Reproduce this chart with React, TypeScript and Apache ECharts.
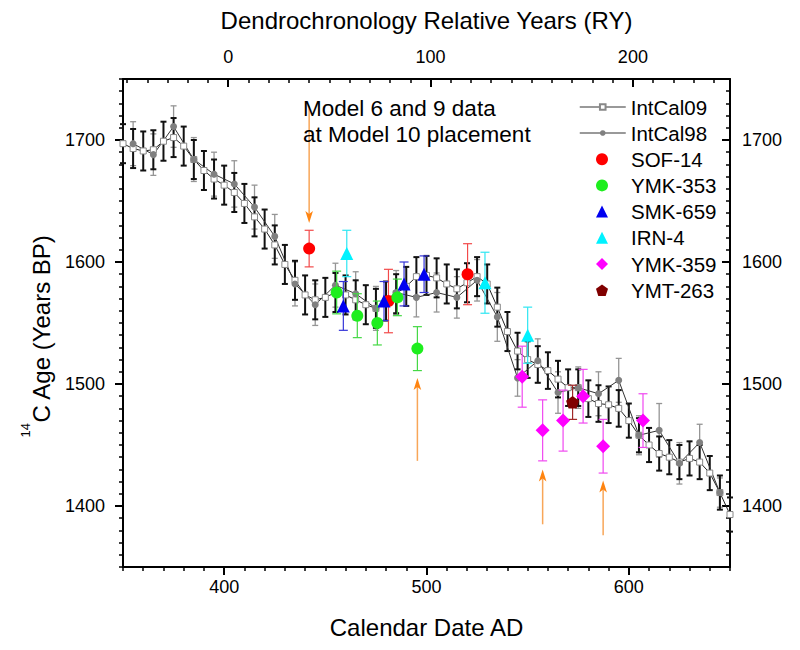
import React, { useEffect, useRef } from 'react';
import * as echarts from 'echarts';

const FONT = '"Liberation Sans", Arial, Helvetica, sans-serif';

// ---- axes ----
const CAL_MIN = 350;
const CAL_MAX = 650;
const calMajorTicks = [400, 500, 600];
const RY_ZERO_AD = 402; // calendar year of RY 0
const ryMajorTicks = [0, 100, 200];
const AGE_MIN = 1350;
const AGE_MAX = 1750;
const ageMajorTicks = [1400, 1500, 1600, 1700];

// ---- IntCal09 (5-yr) ----
const intcal09Years = [
  350, 355, 360, 365, 370, 375, 380, 385, 390, 395,
  400, 405, 410, 415, 420, 425, 430, 435, 440, 445,
  450, 455, 460, 465, 470, 475, 480, 485, 490, 495,
  500, 505, 510, 515, 520, 525, 530, 535, 540, 545,
  550, 555, 560, 565, 570, 575, 580, 585, 590, 595,
  600, 605, 610, 615, 620, 625, 630, 635, 640, 645,
  650,
];
const intcal09Age = [
  1697, 1693, 1691, 1692, 1699, 1702, 1695, 1684, 1675, 1668,
  1663, 1657, 1648, 1637, 1627, 1614, 1598, 1585, 1573, 1569,
  1571, 1575, 1573, 1569, 1565, 1562, 1568, 1574, 1580, 1588,
  1589, 1587, 1582, 1578, 1583, 1588, 1582, 1563, 1543, 1527,
  1520, 1516, 1511, 1504, 1497, 1497, 1488, 1484, 1483, 1480,
  1470, 1458, 1450, 1443, 1440, 1436, 1439, 1436, 1427, 1411,
  1393,
];
const intcal09Err = [
  16, 16, 16, 16, 16, 16, 16, 16, 16, 16,
  16, 16, 16, 16, 16, 16, 16, 16, 16, 16,
  16, 16, 16, 16, 16, 16, 16, 16, 16, 16,
  16, 16, 16, 16, 16, 16, 16, 16, 16, 15,
  15, 15, 15, 15, 15, 15, 15, 15, 15, 15,
  14, 14, 14, 14, 14, 14, 14, 14, 14, 14,
  14,
];

// ---- IntCal98 (10-yr) ----
const intcal98Years = [
  355, 365, 375, 385, 395, 405, 415, 425, 435, 445,
  455, 465, 475, 485, 495, 505, 515, 525, 535, 545,
  555, 565, 575, 585, 595, 605, 615, 625, 635, 645,
];
const intcal98Age = [
  1697, 1688, 1711, 1684, 1672, 1664, 1645, 1621, 1582, 1565,
  1581, 1574, 1562, 1575, 1571, 1575, 1571, 1585, 1555, 1505,
  1519, 1493, 1497, 1492, 1503, 1458, 1462, 1435, 1452, 1411,
];
const intcal98Err = [
  18, 17, 17, 18, 18, 19, 18, 18, 18, 17,
  18, 18, 18, 18, 16, 16, 17, 17, 20, 15,
  18, 17, 17, 18, 18, 16, 22, 17, 15, 12,
];

// ---- samples ----
const sof14Years = [442, 481.2, 520.3];
const sof14Age = [1611, 1568, 1590];
const sof14Err = [15, 26, 25];

const ymk353Years = [455.6, 465.8, 475.7, 485.6, 495.5];
const ymk353Age = [1575, 1556, 1550, 1571, 1529];
const ymk353Err = [17.5, 18, 18, 15, 18];

const smk659Years = [458.9, 479, 488.9, 498.8];
const smk659Age = [1564, 1568, 1582, 1590];
const smk659Err = [20, 16, 18, 15];

const irn4Years = [460.6, 528.9, 550];
const irn4Age = [1607, 1583, 1540];
const irn4Err = [19, 25, 23];

const ymk359Years = [547.3, 557.4, 567.5, 577.4, 587.3, 607];
const ymk359Age = [1506, 1462, 1470, 1490, 1449, 1470];
const ymk359Err = [25, 25, 25, 22, 22, 22];

const ymt263Years = [572.2];
const ymt263Age = [1485];
const ymt263Err = [14];

// ---- arrows (x, tail age, tip age) ----
const arrowYears = [442, 495.5, 557.4, 587.3];
const arrowTail = [1728, 1437, 1385, 1376];
const arrowTip = [1632, 1505, 1430, 1421];

const PENTAGON = 'path://M0,-1 L0.951,-0.309 L0.588,0.809 L-0.588,0.809 L-0.951,-0.309 Z';

function range(a: number, b: number, step: number) {
  const out: number[] = [];
  for (let v = a; v <= b + 1e-9; v += step) out.push(v);
  return out;
}

function errorBars(name: string, xs: number[], ys: number[], es: number[], color: string, width: number, cap: number, z: number) {
  return {
    type: 'custom',
    name,
    z,
    silent: true,
    xAxisIndex: 0,
    yAxisIndex: 0,
    data: xs.map((x, i) => [x, ys[i] - es[i], ys[i] + es[i]]),
    encode: { x: 0, y: [1, 2] },
    renderItem: (_p: any, api: any) => {
      const x = api.value(0);
      const lo = api.coord([x, api.value(1)]);
      const hi = api.coord([x, api.value(2)]);
      const h = cap / 2;
      const style = { stroke: color, lineWidth: width };
      return {
        type: 'group',
        children: [
          { type: 'line', shape: { x1: lo[0], y1: lo[1], x2: hi[0], y2: hi[1] }, style },
          { type: 'line', shape: { x1: hi[0] - h, y1: hi[1], x2: hi[0] + h, y2: hi[1] }, style },
          { type: 'line', shape: { x1: lo[0] - h, y1: lo[1], x2: lo[0] + h, y2: lo[1] }, style },
        ],
      };
    },
  };
}

function scatter(name: string, xs: number[], ys: number[], symbol: string, size: number, color: string) {
  return {
    type: 'scatter',
    name,
    z: 6,
    symbol,
    symbolSize: size,
    symbolKeepAspect: true,
    itemStyle: { color, opacity: 1 },
    data: xs.map((x, i) => [x, ys[i]]),
  };
}

const plain = (v: number) => String(Math.round(v));

export default function App() {
  const ref = useRef<HTMLDivElement>(null);

  useEffect(() => {
    if (!ref.current) return;
    const chart = echarts.init(ref.current, undefined, { renderer: 'svg' });

    const axisLine = { show: true, onZero: false, lineStyle: { color: '#000', width: 2 } };
    const noLine = { show: false, onZero: false };
    const labelStyle = { fontSize: 18, color: '#000', fontFamily: FONT, formatter: plain };
    const nameStyle = { fontSize: 24, color: '#000', fontFamily: FONT };

    const option: any = {
      animation: false,
      backgroundColor: '#fff',
      grid: { left: 123, right: 70, top: 79, bottom: 83, containLabel: false },
      xAxis: [
        {
          type: 'value', position: 'bottom', min: CAL_MIN, max: CAL_MAX,
          axisLine,
          axisTick: { show: true, customValues: calMajorTicks, length: 8, lineStyle: { color: '#000', width: 2 } },
          axisLabel: { show: true, customValues: calMajorTicks, margin: 11, ...labelStyle },
          splitLine: { show: false },
          name: 'Calendar Date AD', nameLocation: 'middle', nameGap: 48, nameTextStyle: nameStyle,
        },
        {
          type: 'value', position: 'bottom', min: CAL_MIN, max: CAL_MAX,
          axisLine: noLine,
          axisTick: { show: true, customValues: range(CAL_MIN, CAL_MAX, 10), length: 4, lineStyle: { color: '#000', width: 1.5 } },
          axisLabel: { show: false },
          splitLine: { show: false },
        },
        {
          type: 'value', position: 'top', min: CAL_MIN - RY_ZERO_AD, max: CAL_MAX - RY_ZERO_AD,
          axisLine,
          axisTick: { show: true, inside: true, customValues: ryMajorTicks, length: 8, lineStyle: { color: '#000', width: 2 } },
          axisLabel: { show: true, customValues: ryMajorTicks, margin: 13, ...labelStyle },
          splitLine: { show: false },
          name: 'Dendrochronology Relative Years (RY)', nameLocation: 'middle', nameGap: 47, nameTextStyle: nameStyle,
        },
        {
          type: 'value', position: 'top', min: CAL_MIN - RY_ZERO_AD, max: CAL_MAX - RY_ZERO_AD,
          axisLine: noLine,
          axisTick: { show: true, inside: true, customValues: range(-50, 240, 10), length: 4, lineStyle: { color: '#000', width: 1.5 } },
          axisLabel: { show: false },
          splitLine: { show: false },
        },
      ],
      yAxis: [
        {
          type: 'value', position: 'left', min: AGE_MIN, max: AGE_MAX,
          axisLine,
          axisTick: { show: true, customValues: ageMajorTicks, length: 8, lineStyle: { color: '#000', width: 2 } },
          axisLabel: { show: true, customValues: ageMajorTicks, margin: 18, ...labelStyle },
          splitLine: { show: false },
          name: '{sup|14}{main|C Age (Years BP)}', nameLocation: 'middle', nameGap: 70, nameRotate: 90,
          nameTextStyle: {
            fontFamily: FONT, color: '#000', padding: [0, 26, 0, 0],
            rich: {
              sup: { fontSize: 13, fontFamily: FONT, color: '#000', verticalAlign: 'top', lineHeight: 34 },
              main: { fontSize: 24, fontFamily: FONT, color: '#000', verticalAlign: 'bottom', lineHeight: 24 },
            },
          },
        },
        {
          type: 'value', position: 'left', min: AGE_MIN, max: AGE_MAX,
          axisLine: noLine,
          axisTick: { show: true, customValues: range(AGE_MIN, AGE_MAX, 10), length: 4, lineStyle: { color: '#000', width: 1.5 } },
          axisLabel: { show: false },
          splitLine: { show: false },
        },
        {
          type: 'value', position: 'right', min: AGE_MIN, max: AGE_MAX,
          axisLine,
          axisTick: { show: true, inside: true, customValues: ageMajorTicks, length: 8, lineStyle: { color: '#000', width: 2 } },
          axisLabel: { show: true, customValues: ageMajorTicks, margin: 12, ...labelStyle },
          splitLine: { show: false },
        },
        {
          type: 'value', position: 'right', min: AGE_MIN, max: AGE_MAX,
          axisLine: noLine,
          axisTick: { show: true, inside: true, customValues: range(AGE_MIN, AGE_MAX, 10), length: 4, lineStyle: { color: '#000', width: 1.5 } },
          axisLabel: { show: false },
          splitLine: { show: false },
        },
      ],
      legend: [
        {
          orient: 'vertical', left: 579, top: 96.5, padding: 0, itemGap: 5,
          itemWidth: 46, itemHeight: 7, selectedMode: false,
          data: ['IntCal09', 'IntCal98'],
          textStyle: { fontSize: 20.5, color: '#000', fontFamily: FONT },
          lineStyle: { color: '#777', width: 1.5 },
        },
        {
          orient: 'vertical', left: 596, top: 148.7, padding: 0, itemGap: 5.2,
          itemWidth: 12, itemHeight: 12, selectedMode: false,
          data: ['SOF-14', 'YMK-353', 'SMK-659', 'IRN-4', 'YMK-359', 'YMT-263'],
          textStyle: { fontSize: 20.5, color: '#000', fontFamily: FONT, padding: [0, 0, 0, 18] },
        },
      ],
      graphic: [
        {
          type: 'text', left: 303, top: 95, z: 10,
          style: {
            text: 'Model 6 and 9 data\nat Model 10 placement',
            font: `22.5px ${FONT}`, lineHeight: 26, fill: '#000',
          },
        },
      ],
      series: [
        errorBars('IntCal98 error', intcal98Years, intcal98Age, intcal98Err, '#959595', 1.3, 6, 1),
        errorBars('IntCal09 error', intcal09Years, intcal09Age, intcal09Err, '#111', 2, 6, 2),
        {
          type: 'line', name: 'IntCal09', z: 3,
          data: intcal09Years.map((x, i) => [x, intcal09Age[i]]),
          symbol: 'rect', symbolSize: 6, showSymbol: true,
          itemStyle: { color: '#fff', borderColor: '#888', borderWidth: 1 },
          lineStyle: { color: '#222', width: 1 },
        },
        {
          type: 'line', name: 'IntCal98', z: 3,
          data: intcal98Years.map((x, i) => [x, intcal98Age[i]]),
          symbol: 'circle', symbolSize: 7, showSymbol: true,
          itemStyle: { color: '#808080' },
          lineStyle: { color: '#333', width: 1 },
        },
        {
          type: 'custom', name: 'arrows', z: 4, silent: true,
          data: arrowYears.map((x, i) => [x, arrowTail[i], arrowTip[i]]),
          encode: { x: 0, y: [1, 2] },
          renderItem: (_p: any, api: any) => {
            const x = api.value(0);
            const a = api.coord([x, api.value(1)]);
            const b = api.coord([x, api.value(2)]);
            const dir = b[1] > a[1] ? 1 : -1;
            const headLen = 12;
            const headW = 3.8;
            const base = b[1] - dir * headLen;
            return {
              type: 'group',
              children: [
                { type: 'line', shape: { x1: a[0], y1: a[1], x2: b[0], y2: base + dir * 3 }, style: { stroke: '#F8A658', lineWidth: 1.5 } },
                {
                  type: 'polygon',
                  shape: { points: [[b[0], b[1]], [b[0] - headW, base], [b[0], base + dir * 3], [b[0] + headW, base]] },
                  style: { fill: '#FF8410' },
                },
              ],
            };
          },
        },
        errorBars('SOF-14 error', sof14Years, sof14Age, sof14Err, '#F24A4A', 1.2, 9, 5),
        errorBars('YMK-353 error', ymk353Years, ymk353Age, ymk353Err, '#45D845', 1.2, 9, 5),
        errorBars('SMK-659 error', smk659Years, smk659Age, smk659Err, '#3535D8', 1.2, 9, 5),
        errorBars('IRN-4 error', irn4Years, irn4Age, irn4Err, '#2EE6F2', 1.2, 9, 5),
        errorBars('YMK-359 error', ymk359Years, ymk359Age, ymk359Err, '#F048F0', 1.2, 9, 5),
        errorBars('YMT-263 error', ymt263Years, ymt263Age, ymt263Err, '#A02828', 1.2, 9, 5),
        scatter('SOF-14', sof14Years, sof14Age, 'circle', 12, '#FF0000'),
        scatter('YMK-353', ymk353Years, ymk353Age, 'circle', 12, '#1EEE1E'),
        scatter('SMK-659', smk659Years, smk659Age, 'triangle', 13, '#0000F0'),
        scatter('IRN-4', irn4Years, irn4Age, 'triangle', 13, '#00F2FF'),
        scatter('YMK-359', ymk359Years, ymk359Age, 'diamond', 14, '#FF00FF'),
        scatter('YMT-263', ymt263Years, ymt263Age, PENTAGON, 13, '#800000'),
      ],
    };

    chart.setOption(option);
    return () => chart.dispose();
  }, []);

  return <div ref={ref} style={{ position: 'fixed', left: 0, top: 0, width: 800, height: 650 }} />;
}
